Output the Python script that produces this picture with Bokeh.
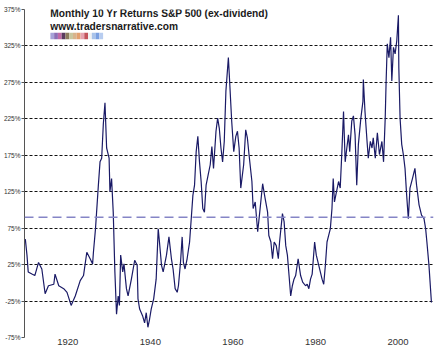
from bokeh.plotting import figure
from bokeh.models import Range1d, FixedTicker, Label, BoxAnnotation, Span, CustomJSTickFormatter
from bokeh.embed import file_html
from bokeh.resources import INLINE

# ---- data ----
years = [1909.7, 1910.1, 1910.4, 1911.3, 1912.0, 1912.9, 1913.7, 1914.5, 1915.3, 1916.6,
         1916.9, 1917.8, 1919.0, 1919.8, 1920.8, 1921.8, 1923.0, 1923.8, 1924.6, 1925.4,
         1926.0, 1926.2, 1926.7, 1927.4, 1927.8, 1928.2, 1928.6, 1929.0, 1929.4, 1930.0,
         1930.2, 1930.6, 1931.0, 1931.4, 1931.8, 1932.2, 1932.5, 1932.8, 1933.3, 1933.6,
         1934.2, 1934.6, 1935.4, 1936.2, 1936.8, 1937.0, 1937.4, 1938.1, 1938.6, 1939.0,
         1939.4, 1939.8, 1940.2, 1940.8, 1941.4, 1941.9, 1942.2, 1942.7, 1943.1, 1943.9,
         1944.5, 1945.1, 1945.5, 1946.0, 1946.5, 1946.8, 1947.3, 1947.7, 1948.0, 1948.4,
         1948.9, 1949.5, 1949.9, 1950.3, 1950.7, 1951.1, 1951.5, 1951.9, 1952.3, 1952.7,
         1953.1, 1953.5, 1954.0, 1954.5, 1954.9, 1955.3, 1955.9, 1956.3, 1956.7, 1957.1,
         1957.5, 1957.9, 1958.3, 1958.9, 1959.2, 1959.7, 1960.2, 1960.7, 1961.1, 1961.5,
         1961.9, 1962.6, 1963.1, 1963.5, 1963.9, 1964.6, 1964.9, 1965.4, 1966.0, 1966.5,
         1967.2, 1967.8, 1968.4, 1968.7, 1969.2, 1969.6, 1970.0, 1970.5, 1971.0, 1971.3,
         1972.0, 1972.4, 1972.8, 1973.2, 1973.6, 1974.0, 1974.4, 1974.8, 1975.2, 1975.8,
         1976.4, 1976.9, 1977.6, 1978.0, 1978.4, 1978.8, 1979.2, 1979.8, 1980.2, 1980.8,
         1981.6, 1982.0, 1982.4, 1982.8, 1983.2, 1983.6, 1984.0, 1984.3, 1984.6, 1985.1,
         1985.6, 1986.0, 1986.4, 1986.8, 1987.2, 1987.6, 1988.0, 1988.3, 1988.8, 1989.2,
         1989.6, 1990.0, 1990.4, 1991.0, 1991.5, 1991.6, 1992.0, 1992.5, 1992.8, 1993.3,
         1993.7, 1994.0, 1994.5, 1995.0, 1995.5, 1996.1, 1996.5, 1996.9, 1997.1, 1997.4,
         1997.8, 1998.2, 1998.5, 1998.9, 1999.3, 1999.7, 2000.1, 2000.2, 2000.5, 2000.9,
         2001.3, 2001.7, 2002.1, 2002.5, 2002.9, 2003.5, 2004.1, 2004.5, 2005.1, 2005.7,
         2006.3, 2006.7, 2007.0, 2007.5, 2008.1]
returns = [60, 38, 15, 12, 10, 28, 19, -15, -4, -2,
           12, -4, -8, -13, -31, -18, 3, 10, 42, 33,
           26, 42, 74, 134, 166, 171, 218, 247, 185, 171,
           125, 143, 97, 15, -43, -18, -31, 38, 15, 26,
           -8, -18, 5, 31, 24, -22, -36, -45, -55, -41,
           -61, -50, -36, -22, 5, 74, 56, 24, 15, 38,
           63, 33, 19, -8, -13, -4, 28, 63, 28, 19,
           33, 56, 88, 120, 134, 180, 201, 166, 139, 102,
           97, 134, 148, 162, 187, 157, 208, 226, 212, 185,
           166, 194, 263, 309, 277, 222, 180, 201, 208, 185,
           130, 162, 210, 199, 176, 139, 102, 111, 70, 97,
           136, 116, 97, 65, 56, 33, 56, 51, 33, 56,
           95, 84, 51, 38, 10, -18, -4, 5, 10, 33,
           10, 1, -4, -2, -8, 5, 12, 56, 38, 24,
           5, -2, 24, 56, 65, 74, 102, 143, 111, 125,
           139, 130, 180, 235, 166, 185, 203, 180, 222, 229,
           203, 134, 190, 226, 249, 279, 235, 194, 171, 194,
           185, 199, 171, 206, 176, 194, 166, 226, 272, 328,
           309, 337, 277, 323, 314, 332, 367, 295, 226, 190,
           176, 157, 120, 88, 130, 143, 157, 134, 107, 93,
           88, 74, 56, 24, -27]
average_return = 90
y_ticks = [-75, -25, 25, 75, 125, 175, 225, 275, 325, 375]
grid_ticks = [-25, 25, 75, 125, 175, 225, 275, 325]
x_ticks = [1920, 1940, 1960, 1980, 2000]
title_lines = ["Monthly 10 Yr Returns S&P 500 (ex-dividend)", "www.tradersnarrative.com"]
logo_colors = ["#a7a3d8", "#8c6fb5", "#c26aa5", "#5a3b5e", "#8c7a5c", "#c9c7a0",
               "#d8b48c", "#e3a06f", "#e6a3b0", "#c4545c", "#f2f2f2", "#a9c3ea",
               "#7a9fe0", "#b8cdf0"]

# ---- layout ----
W, H = 435, 347
L, R, T, B = 22, 433, 9, 335
x0, x1 = 1909.5, 2008.6
y0, y1 = -75, 375


def px_x(px):
    return x0 + (px - L) / (R - L) * (x1 - x0)


def px_y(py):
    return y1 - (py - T) / (B - T) * (y1 - y0)


p = figure(width=W, height=H, output_backend="svg", toolbar_location=None,
           x_range=Range1d(x0, x1), y_range=Range1d(y0, y1),
           min_border_left=L, min_border_right=W - R, min_border_top=T, min_border_bottom=0)
p.outline_line_color = None
p.background_fill_color = "white"
p.border_fill_color = "white"

p.xgrid.visible = False
p.ygrid.ticker = FixedTicker(ticks=grid_ticks)
p.ygrid.grid_line_color = "#111111"
p.ygrid.grid_line_dash = "3 2"
p.ygrid.grid_line_width = 1

p.yaxis.ticker = FixedTicker(ticks=y_ticks)
p.yaxis.formatter = CustomJSTickFormatter(code="return tick + '%';")
p.yaxis.major_label_text_font = "Liberation Sans"
p.yaxis.major_label_text_font_size = "6.5px"
p.yaxis.major_label_text_color = "#333333"
p.yaxis.major_tick_out = 3
p.yaxis.major_tick_in = 0
p.yaxis.minor_tick_out = 0
p.yaxis.minor_tick_in = 0
p.yaxis.major_label_standoff = 1
p.yaxis.axis_line_color = "#555555"
p.yaxis.major_tick_line_color = "#555555"

p.xaxis.ticker = FixedTicker(ticks=x_ticks)
p.xaxis.axis_line_color = None
p.xaxis.major_tick_line_color = None
p.xaxis.minor_tick_line_color = None
p.xaxis.major_tick_out = 0
p.xaxis.major_tick_in = 0
p.xaxis.major_label_standoff = 1
p.xaxis.major_label_text_font = "Liberation Sans"
p.xaxis.major_label_text_font_size = "9.5px"
p.xaxis.major_label_text_color = "#333333"

p.add_layout(Span(location=average_return, dimension="width", line_color="#8585c6",
                  line_dash="9 5", line_width=1.6))

p.line(years, returns, line_color="#1a1a66", line_width=1.2)

for i, t in enumerate(title_lines):
    p.add_layout(Label(x=px_x(48), y=px_y(12.5 + 13 * i), text=t,
                       text_font="Liberation Sans", text_font_style="bold",
                       text_font_size="10.2px", text_color="#1a1a1a",
                       text_baseline="middle", text_align="left"))

sw = 53 / len(logo_colors)
for i, c in enumerate(logo_colors):
    p.add_layout(BoxAnnotation(left=px_x(48 + i * sw), right=px_x(48 + (i + 1) * sw),
                               top=px_y(32), bottom=px_y(38.5), fill_color=c,
                               fill_alpha=1, line_color=None))

open("out.html", "w").write(file_html(p, INLINE))
